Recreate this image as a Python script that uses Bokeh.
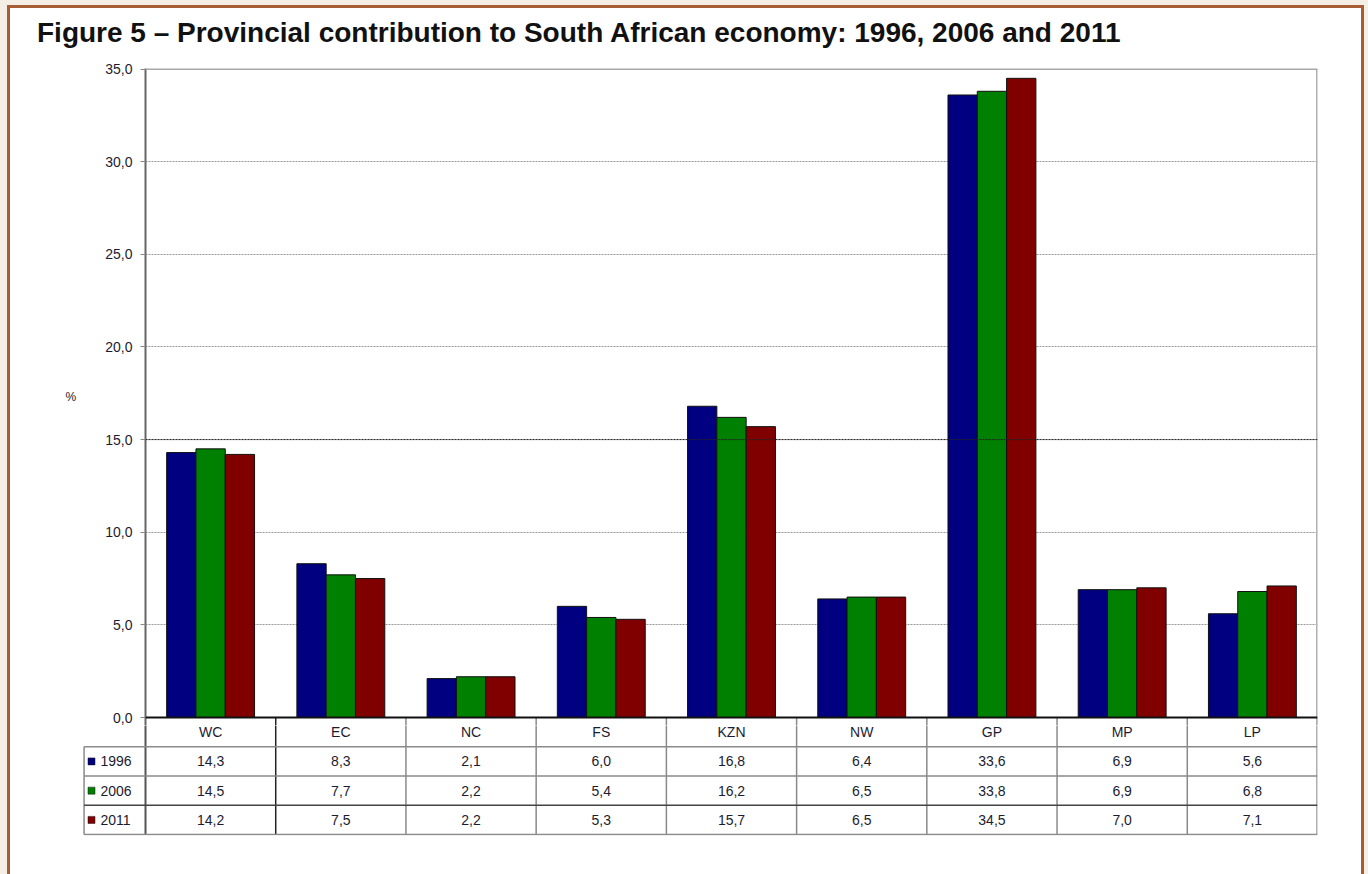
from bokeh.plotting import figure
from bokeh.models import Range1d, FactorRange, FixedTicker, Span, CustomJSTickFormatter, ColumnDataSource, Div
from bokeh.layouts import column
from bokeh.transform import dodge
from bokeh.core.properties import value
from bokeh.embed import file_html
from bokeh.resources import INLINE

# ---------------- data ----------------
provinces = ["WC", "EC", "NC", "FS", "KZN", "NW", "GP", "MP", "LP"]
years = ["1996", "2006", "2011"]
v1996 = [14.3, 8.3, 2.1, 6.0, 16.8, 6.4, 33.6, 6.9, 5.6]
v2006 = [14.5, 7.7, 2.2, 5.4, 16.2, 6.5, 33.8, 6.9, 6.8]
v2011 = [14.2, 7.5, 2.2, 5.3, 15.7, 6.5, 34.5, 7.0, 7.1]
y_ticks = [0, 5, 10, 15, 20, 25, 30, 35]
title_text = "Figure 5 \u2013 Provincial contribution to South African economy: 1996, 2006 and 2011"

colors = ["#000080", "#008000", "#800000"]
series = [v1996, v2006, v2011]
FONT = "Liberation Sans"
TXT = "#1c1c30"
ncat = len(provinces)

# ---------------- title ----------------
title_div = Div(text=title_text, width=1351, height=45, margin=0,
                styles={"font-family": FONT, "font-size": "28px", "font-weight": "bold",
                        "color": "#111111", "line-height": "50px", "padding-left": "27px",
                        "white-space": "nowrap", "background-color": "white"})

# ---------------- chart ----------------
src = ColumnDataSource(dict(prov=provinces, y1996=v1996, y2006=v2006, y2011=v2011))

y_bottom = -8 / 18.543   # a few pixels below zero so that the "0,0" label is not cut
p = figure(width=1351, height=672, x_range=FactorRange(factors=provinces, range_padding=0, factor_padding=0),
           y_range=Range1d(y_bottom, 35.03), output_backend="svg", toolbar_location=None,
           x_axis_location=None, min_border_left=135, min_border_right=44,
           min_border_top=15, min_border_bottom=0)
p.frame_align = False
p.outline_line_color = None
p.background_fill_color = "white"
p.border_fill_color = "white"

ax = p.yaxis[0]
ax.ticker = FixedTicker(ticks=y_ticks)
ax.formatter = CustomJSTickFormatter(code="return tick.toFixed(1).replace('.', ',');")
ax.major_label_text_font = FONT
ax.major_label_text_font_size = "14px"
ax.major_label_text_color = TXT
ax.major_label_standoff = 8
ax.major_tick_out = 5
ax.major_tick_in = 0
ax.minor_tick_out = 0
ax.minor_tick_in = 0
ax.major_tick_line_color = "#888888"
ax.axis_line_color = "#666666"
ax.axis_line_width = 2
ax.axis_label = "%"
ax.axis_label_orientation = "horizontal"
ax.axis_label_text_font = FONT
ax.axis_label_text_font_size = "12px"
ax.axis_label_text_font_style = "normal"
ax.axis_label_text_color = TXT
ax.axis_label_standoff = 26

p.xgrid.visible = False
p.ygrid.grid_line_color = "#999999"
p.ygrid.grid_line_dash = "2 1"
p.ygrid.grid_line_width = 1

p.add_layout(Span(location=15, dimension="width", line_color="#222222", line_dash="2 1", line_width=1))
p.add_layout(Span(location=35, dimension="width", line_color="#a8a8a8", line_width=2))

offsets = [-0.225, 0.0, 0.225]
for yr, col, off in zip(years, colors, offsets):
    p.vbar(x=dodge("prov", off, range=p.x_range), top="y" + yr, width=0.225, source=src,
           fill_color=col, line_color="#101010", line_width=1)

# right border of the plot area and table separators continuing below zero
p.segment(x0=[ncat], y0=[y_bottom], x1=[ncat], y1=[35], line_color="#b0b0b0", line_width=3)
vx = list(range(ncat + 1))
vcol = ["#555555", "#222222"] + ["#8a8a8a"] * (ncat - 2) + ["#b0b0b0"]
vw = [2, 1.5] + [1.5] * (ncat - 2) + [3]
p.segment(x0=vx[1:], y0=[y_bottom] * ncat, x1=vx[1:], y1=[0] * ncat, line_color=vcol[1:], line_width=vw[1:])

p.add_layout(Span(location=0, dimension="width", line_color="#111111", line_width=2))

# ---------------- data table below ----------------
px_per_unit = 1172 / ncat
leg_w = 63 / px_per_unit
row_px = 29.25
t_top = 8 / row_px
t = figure(width=1351, height=170, x_range=Range1d(-leg_w, ncat),
           y_range=Range1d(4.0 + 1 / row_px, t_top), output_backend="svg", toolbar_location=None,
           x_axis_location=None, y_axis_location=None, min_border_left=72, min_border_right=44,
           min_border_top=0, min_border_bottom=60)
t.frame_align = False
t.grid.visible = False
t.outline_line_color = None
t.background_fill_color = "white"
t.border_fill_color = "white"

# vertical lines
t.segment(x0=vx, y0=[0] * len(vx), x1=vx, y1=[4] * len(vx), line_color=vcol, line_width=vw)
# legend column left edge
leg_x = -leg_w + 0.012
t.segment(x0=[leg_x], y0=[1], x1=[leg_x], y1=[4], line_color="#8a8a8a", line_width=1.5)
# horizontal lines
hy = [1, 2, 3, 4]
hcol = ["#8a8a8a", "#8a8a8a", "#444444", "#8a8a8a"]
t.segment(x0=[leg_x] * 4, y0=hy, x1=[ncat] * 4, y1=hy, line_color=hcol, line_width=1.5)

cx = [i + 0.5 for i in range(ncat)]
t.text(x=cx, y=[0.5] * ncat, text=provinces, text_align="center", text_baseline="middle",
       text_font=value(FONT), text_font_size="14px", text_color=TXT)
for r, vals in enumerate(series):
    labels = [f"{v:.1f}".replace(".", ",") for v in vals]
    t.text(x=cx, y=[r + 1.5] * ncat, text=labels, text_align="center", text_baseline="middle",
           text_font=value(FONT), text_font_size="14px", text_color=TXT)

t.scatter(x=[-leg_w + 9 / px_per_unit] * 3, y=[1.5, 2.5, 3.5], marker="square", size=7,
          fill_color=colors, line_color="#101010", line_width=0.5)
t.text(x=[-leg_w + 18 / px_per_unit] * 3, y=[1.5, 2.5, 3.5], text=years, text_align="left",
       text_baseline="middle", text_font=value(FONT), text_font_size="14px", text_color=TXT)

inner = column(title_div, p, t, margin=(5, 4, 0, 7),
               styles={"border": "3px solid #a65d35", "background-color": "white"})
layout = column(inner, styles={"background-color": "#f4eee5"})

open("out.html", "w").write(file_html(layout, INLINE))
